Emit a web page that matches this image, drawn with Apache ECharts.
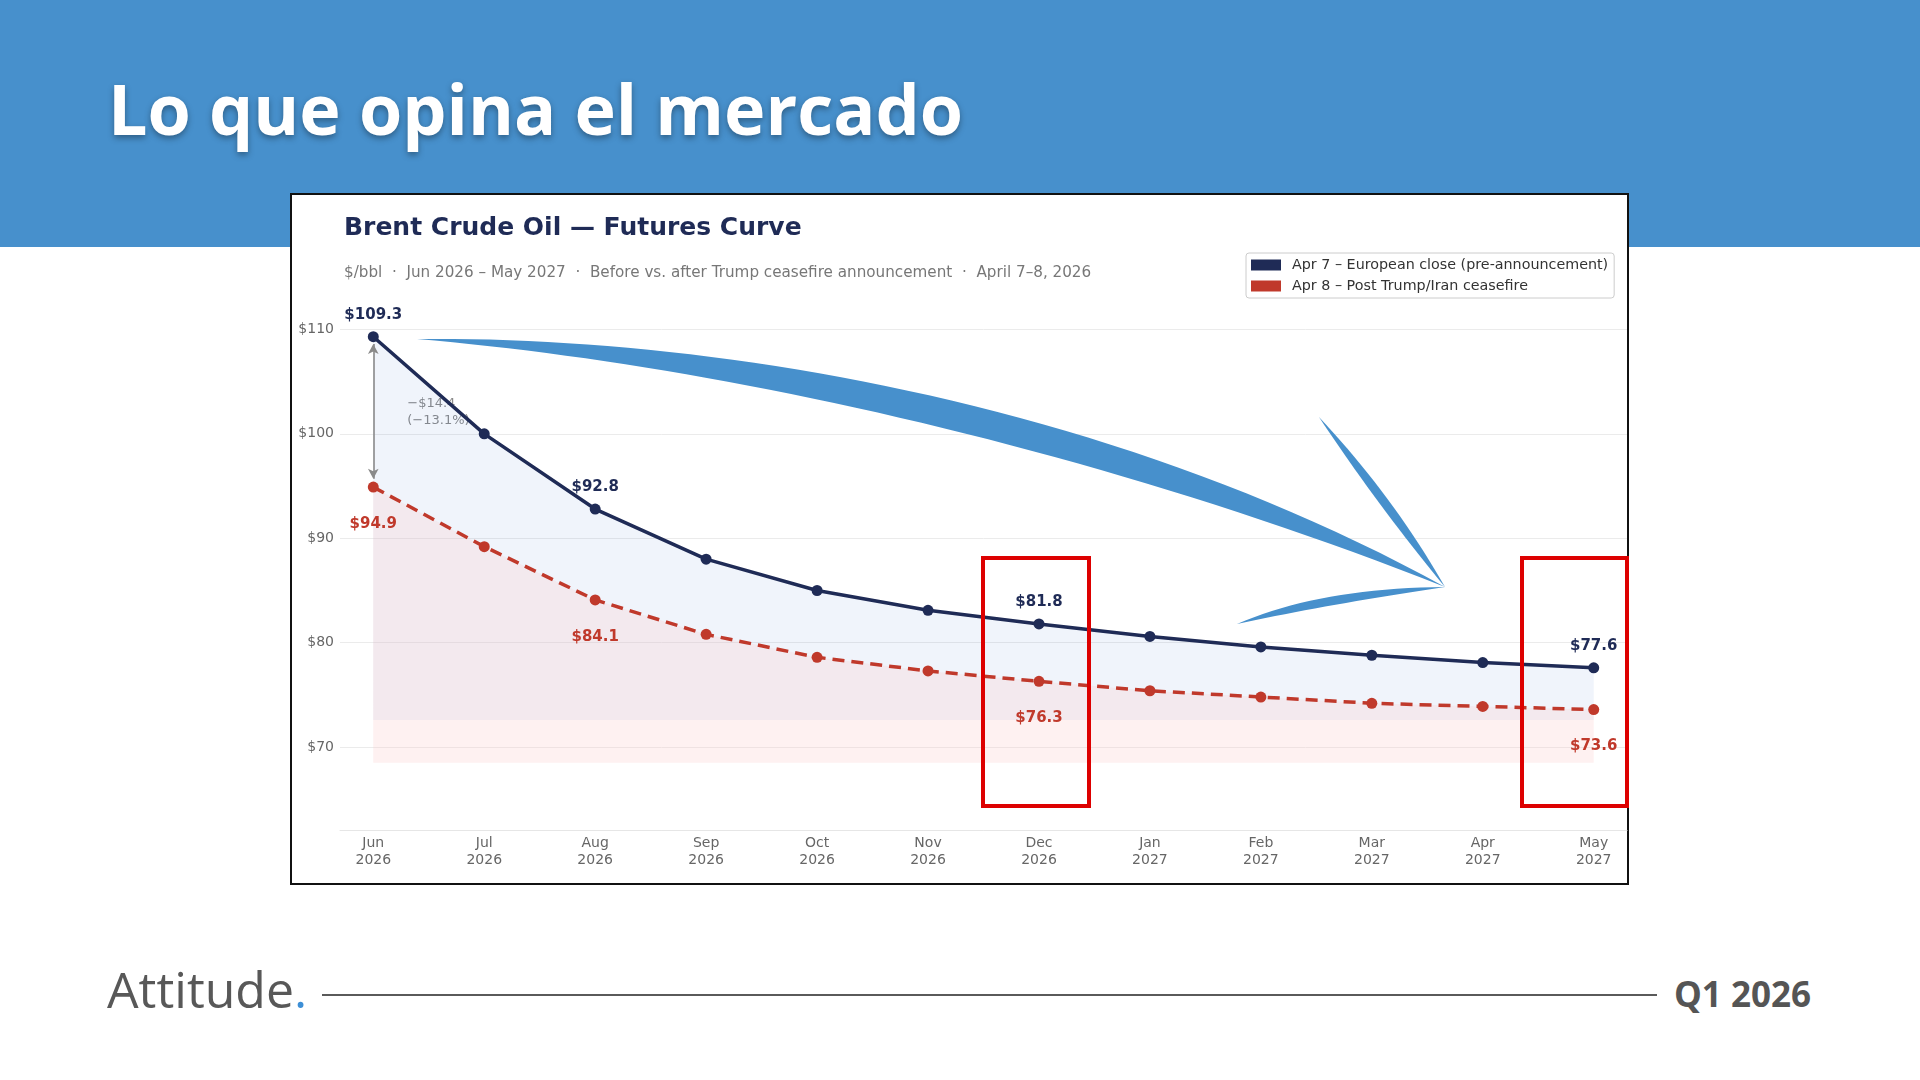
<!DOCTYPE html>
<html>
<head>
<meta charset="utf-8">
<script src="https://cdn.jsdelivr.net/npm/echarts@6/dist/echarts.min.js"></script>
<style>
  html, body { margin: 0; padding: 0; width: 1920px; height: 1080px; background: #fff; overflow: hidden; }
  .header { position: absolute; left: 0; top: 0; width: 1920px; height: 247px; background: #4790cc; }
  .header h1 { position: absolute; left: 108px; top: 73px; margin: 0; font-family: "Open Sans", sans-serif; font-weight: 700;
    font-size: 70px; line-height: 70px; color: #fff; text-shadow: 0 3px 6px rgba(0,0,0,.35); }
  .box { position: absolute; left: 290px; top: 193px; width: 1339px; height: 692px; box-sizing: border-box;
    background: #fff; border: 2px solid #111; }
  .brand { position: absolute; left: 107px; top: 957px; font-family: "Open Sans", sans-serif; font-size: 50px; line-height: 64px; color: #585858; }
  .brand span { color: #3d8fd6; }
  .rule { position: absolute; left: 322px; top: 994px; width: 1335px; height: 2px; background: #5a5a5a; }
  .period { position: absolute; left: 1674px; top: 970px; font-family: "Open Sans", sans-serif; font-weight: 700; font-size: 35px; line-height: 48px; color: #555; }
  #chart { position: absolute; left: 0; top: 0; width: 1920px; height: 1080px; }
</style>
</head>
<body>
<div class="header"><h1>Lo que opina el mercado</h1></div>
<div class="box"></div>
<div class="brand">Attitude<span>.</span></div>
<div class="rule"></div>
<div class="period">Q1 2026</div>
<div id="chart"></div>
<script>
// datos
var months = ['Jun', 'Jul', 'Aug', 'Sep', 'Oct', 'Nov', 'Dec', 'Jan', 'Feb', 'Mar', 'Apr', 'May'];
var years = ['2026', '2026', '2026', '2026', '2026', '2026', '2026', '2027', '2027', '2027', '2027', '2027'];
var preAnnouncement = [109.3, 100.0, 92.8, 88.0, 85.0, 83.1, 81.8, 80.6, 79.6, 78.8, 78.1, 77.6];
var postCeasefire = [94.9, 89.2, 84.1, 80.8, 78.6, 77.3, 76.3, 75.4, 74.8, 74.2, 73.9, 73.6];
var labelIdx = [0, 2, 6, 11];
var yTicks = [70, 80, 90, 100, 110];
var seriesNames = ['Apr 7 \u2013 European close (pre-announcement)', 'Apr 8 \u2013 Post Trump/Iran ceasefire'];
var gapText = ['\u2212$14.4', '(\u221213.1%)'];

(function () {
  var chartDom = document.getElementById('chart');
  var myChart = echarts.init(chartDom, null, { renderer: 'canvas' });
  var font = 'DejaVu Sans';
  var navy = '#1f2b56';
  var red = '#c0392b';
  var blueArrow = '#4790cc';

  function toData(arr, labelPos, dist) {
    return arr.map(function (v, i) {
      var item = { value: [i, v] };
      if (labelIdx.indexOf(i) > -1) {
        item.label = { show: true, position: labelPos, distance: dist };
      }
      return item;
    });
  }

  // puntos de una curva (para la flecha decorativa)
  function bez(p0, c1, c2, p3, n) {
    var pts = [];
    for (var k = 0; k <= n; k++) {
      var t = k / n, u = 1 - t;
      if (c2) {
        pts.push([u * u * u * p0[0] + 3 * u * u * t * c1[0] + 3 * u * t * t * c2[0] + t * t * t * p3[0],
                  u * u * u * p0[1] + 3 * u * u * t * c1[1] + 3 * u * t * t * c2[1] + t * t * t * p3[1]]);
      } else {
        pts.push([u * u * p0[0] + 2 * u * t * c1[0] + t * t * p3[0],
                  u * u * p0[1] + 2 * u * t * c1[1] + t * t * p3[1]]);
      }
    }
    return pts;
  }
  function blade(a, b) {
    return a.concat(b.slice().reverse());
  }

  var xTicks = months.map(function (m, i) { return i; });

  var option = {
    animation: false,
    backgroundColor: 'transparent',
    title: {
      text: 'Brent Crude Oil \u2014 Futures Curve',
      subtext: '$/bbl  \u00b7  Jun 2026 \u2013 May 2027  \u00b7  Before vs. after Trump ceasefire announcement  \u00b7  April 7\u20138, 2026',
      left: 344,
      top: 216,
      padding: 0,
      itemGap: 25,
      textStyle: { fontFamily: font, fontSize: 25, fontWeight: 'bold', color: navy },
      subtextStyle: { fontFamily: font, fontSize: 15.2, color: '#777' }
    },
    legend: {
      orient: 'vertical',
      left: 1246,
      top: 253,
      padding: [5, 6, 5, 5],
      itemGap: 7,
      itemWidth: 30,
      itemHeight: 11,
      icon: 'rect',
      borderColor: '#cccccc',
      borderWidth: 1,
      borderRadius: 3,
      backgroundColor: 'rgba(255,255,255,0.85)',
      textStyle: { fontFamily: font, fontSize: 14.3, color: '#333', padding: [0, 0, 0, 6] },
      data: seriesNames
    },
    grid: { left: 340, right: 293, top: 329.4, bottom: 249.3 },
    xAxis: {
      type: 'value',
      min: -0.3,
      max: 11.3,
      axisLine: { show: true, lineStyle: { color: '#e6e6e6', width: 1 } },
      axisTick: { show: false },
      splitLine: { show: false },
      axisLabel: {
        customValues: xTicks,
        formatter: function (v) { return months[v] + '\n' + years[v]; },
        fontFamily: font, fontSize: 14, lineHeight: 17, color: '#666', margin: 4
      }
    },
    yAxis: {
      type: 'value',
      min: 62,
      max: 110,
      axisLine: { show: false },
      axisTick: { show: false },
      splitLine: { lineStyle: { color: '#ebebeb', width: 1 } },
      axisLabel: {
        customValues: yTicks,
        formatter: '${value}',
        fontFamily: font, fontSize: 14, color: '#666', margin: 6
      }
    },
    series: [
      {
        name: seriesNames[0],
        type: 'line',
        data: toData(preAnnouncement, 'top', 9),
        symbol: 'circle',
        symbolSize: 11,
        color: navy,
        lineStyle: { color: navy, width: 3.5 },
        itemStyle: { color: navy },
        areaStyle: { origin: 72.6, color: 'rgba(60,120,200,0.11)' },
        label: {
          show: false,
          formatter: function (p) { return '$' + p.value[1].toFixed(1); },
          fontFamily: font, fontSize: 15, fontWeight: 'bold', color: navy
        },
        markLine: {
          silent: true,
          symbol: ['arrow', 'arrow'],
          symbolSize: [8, 10],
          label: { show: false },
          lineStyle: { color: '#8a8a8a', width: 1.6, type: 'solid' },
          data: [[{ coord: [0, preAnnouncement[0] - 0.7] }, { coord: [0, postCeasefire[0] + 0.8] }]]
        },
        z: 3
      },
      {
        name: seriesNames[1],
        type: 'line',
        data: toData(postCeasefire, 'bottom', 24),
        symbol: 'circle',
        symbolSize: 11,
        color: red,
        lineStyle: { color: red, width: 3.5, type: [12, 7] },
        itemStyle: { color: red },
        areaStyle: { origin: 68.5, color: 'rgba(250,205,205,0.4)' },
        label: {
          show: false,
          formatter: function (p) { return '$' + p.value[1].toFixed(1); },
          fontFamily: font, fontSize: 15, fontWeight: 'bold', color: red
        },
        z: 4
      }
    ]
  };

  myChart.setOption(option);

  // anotación de la diferencia y marcas de la diapositiva
  var mid = myChart.convertToPixel({ gridIndex: 0 }, [0, (preAnnouncement[0] + postCeasefire[0]) / 2]);
  var swoosh = blade(bez([417, 339], [700, 336], [1100, 397], [1445, 587], 48),
                     bez([417, 339], [700, 363], [1078, 442], [1445, 587], 48));
  var spikeUp = blade(bez([1319, 417], [1393, 496], null, [1445, 587], 20),
                      bez([1319, 417], [1378, 506], null, [1445, 587], 20));
  var spikeLow = blade(bez([1237, 624], [1320, 588], null, [1445, 587], 20),
                       bez([1237, 624], [1330, 604], null, [1445, 587], 20));

  myChart.setOption({
    graphic: [
      {
        type: 'text', z: 1, x: mid[0] + 34, y: mid[1],
        style: { text: gapText.join('\n'), fontFamily: font, fontSize: 13, lineHeight: 17, fill: '#8a8a8a', verticalAlign: 'middle', align: 'left' }
      },
      { type: 'polygon', z: 100, shape: { points: swoosh }, style: { fill: blueArrow } },
      { type: 'polygon', z: 100, shape: { points: spikeUp }, style: { fill: blueArrow } },
      { type: 'polygon', z: 100, shape: { points: spikeLow }, style: { fill: blueArrow } },
      {
        type: 'rect', z: 100,
        shape: { x: 983, y: 558, width: 106, height: 248 },
        style: { fill: 'none', stroke: '#dd0000', lineWidth: 4 }
      },
      {
        type: 'rect', z: 100,
        shape: { x: 1522, y: 558, width: 105, height: 248 },
        style: { fill: 'none', stroke: '#dd0000', lineWidth: 4 }
      }
    ]
  });

  window.addEventListener('resize', function () {
    myChart.resize();
  });
})();
</script>
</body>
</html>
